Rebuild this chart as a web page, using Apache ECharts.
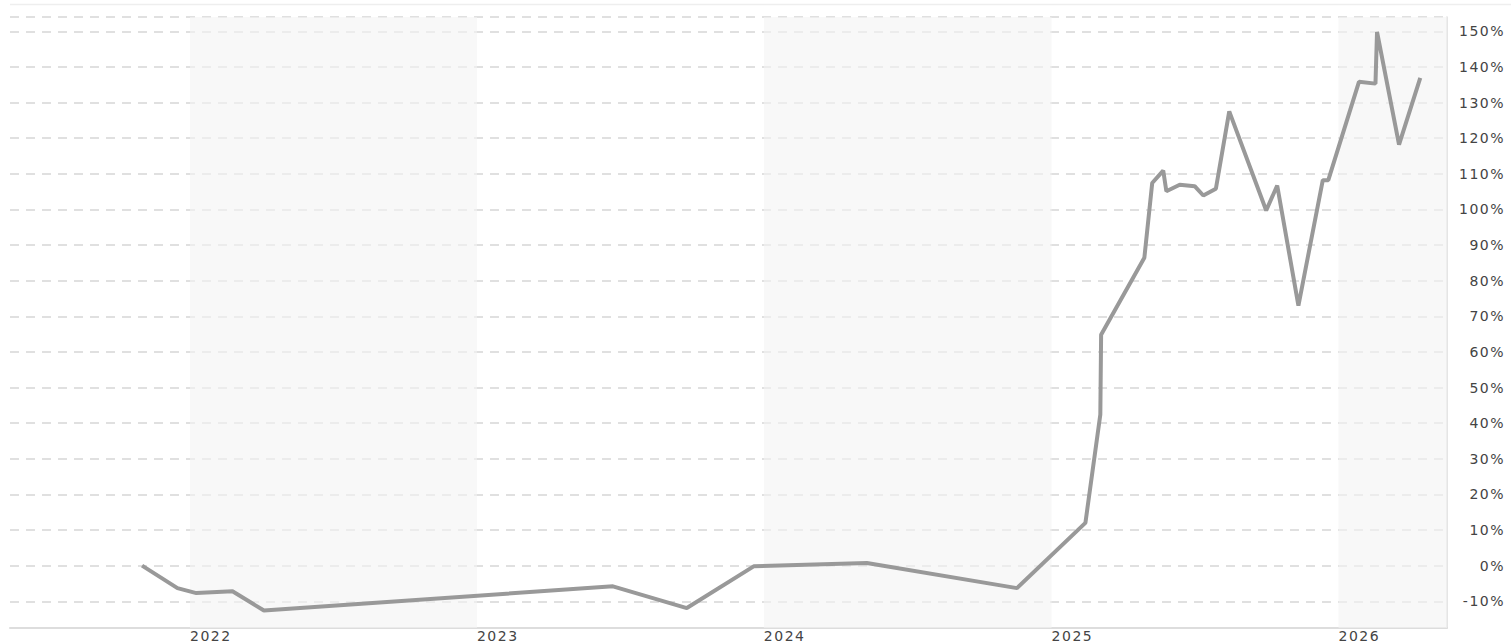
<!DOCTYPE html>
<html><head><meta charset="utf-8">
<script src="https://cdn.jsdelivr.net/npm/echarts@6/dist/echarts.min.js"></script>
<style>
html,body{margin:0;padding:0;background:#fff;}
#c{width:1511px;height:643px;}
#c text{letter-spacing:1.5px;}
</style>
</head><body><div id="c"></div>
<script>
// ---- data ----
const dates = ['2021-11-01','2021-12-16','2022-01-09','2022-02-24','2022-04-05','2023-06-23','2023-09-25','2023-12-19',
  '2024-05-11','2024-11-18','2025-02-13','2025-03-04','2025-03-05','2025-04-29','2025-05-09','2025-05-23','2025-05-27',
  '2025-06-13','2025-07-02','2025-07-13','2025-07-29','2025-08-15','2025-10-01','2025-10-15','2025-11-11','2025-12-12',
  '2025-12-19','2026-01-27','2026-02-17','2026-02-19','2026-03-19','2026-04-15'];
const values = [0,-6.3,-7.7,-7.2,-12.6,-5.8,-11.9,-0.2,
  0.75,-6.3,12.0,42.4,64.8,86.4,107.4,110.9,105.1,
  106.9,106.5,103.9,105.8,127.5,99.7,106.7,73.0,108.2,
  108.2,135.8,135.3,149.8,118.2,136.9];
const xMin = '2021-05-17';
const xMax = '2026-05-19';
const shadedYears = [['2022-01-01','2023-01-01'],['2024-01-01','2025-01-01'],['2026-01-01','2026-05-19']];
const yMin = -17.5;
const yMax = 154;

const chart = echarts.init(document.getElementById('c'), null, {renderer:'svg'});
chart.setOption({
  animation: false,
  backgroundColor: '#fff',
  grid: {left: 10, right: 64, top: 17, bottom: 15, containLabel: false, outerBoundsMode: 'none'},
  graphic: [{type:'line', shape:{x1:10,y1:4.5,x2:1511,y2:4.5}, style:{stroke:'#eeeeee', lineWidth:1.5}, silent:true}],
  xAxis: {
    type: 'time', min: xMin, max: xMax,
    minInterval: 365*24*3600*1000, maxInterval: 366*24*3600*1000,
    axisLine: {show: true, onZero: false, lineStyle: {color: '#dddddd', width: 2}},
    axisTick: {show: false},
    splitLine: {show: false},
    axisLabel: {
      showMinLabel: false, showMaxLabel: false,
      align: 'left', margin: 1, lineHeight: 14, color: '#444', fontSize: 14, fontFamily: 'DejaVu Sans',
      formatter: function (v) { const d = new Date(v); return (d.getMonth()===0 && d.getDate()===1) ? String(d.getFullYear()) : ''; }
    }
  },
  yAxis: {
    type: 'value', position: 'right', min: yMin, max: yMax, splitNumber: 17,
    axisLine: {show: true, lineStyle: {color: '#dddddd', width: 1.5}},
    axisTick: {show: false},
    splitLine: {show: true, lineStyle: {color: '#e0e0e0', type: [9, 7], width: 2}},
    axisLabel: {
      showMinLabel: false, showMaxLabel: false,
      align: 'right', margin: 58, color: '#444', fontSize: 14, fontFamily: 'DejaVu Sans',
      formatter: function (v) { return Math.round(v) + '%'; }
    }
  },
  series: [
    {type: 'line', data: [], z: 1, silent: true,
      markArea: {silent: true, itemStyle: {color: 'rgba(244,244,244,0.62)'},
        data: shadedYears.map(p => [{xAxis: p[0]}, {xAxis: p[1]}])}},
    {type: 'line', z: 3, showSymbol: false, symbol: 'none',
      data: dates.map((d, i) => [d, values[i]]),
      lineStyle: {color: '#999999', width: 4}}
  ]
});
</script></body></html>
